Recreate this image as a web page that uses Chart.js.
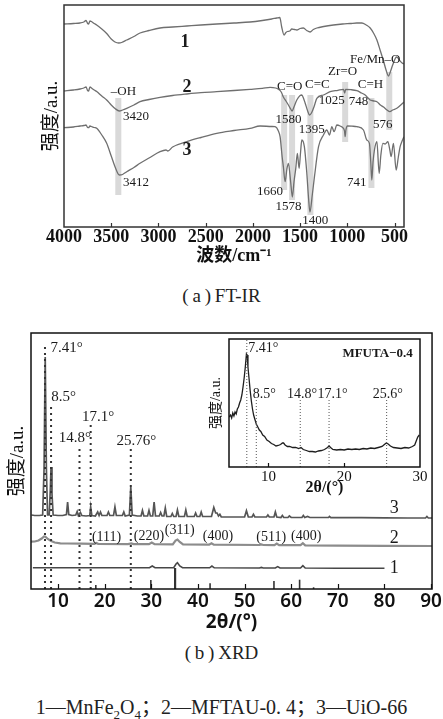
<!DOCTYPE html>
<html lang="zh">
<head>
<meta charset="UTF-8">
<title>FT-IR / XRD</title>
<script src="https://cdn.jsdelivr.net/npm/chart.js@4.4.1/dist/chart.umd.min.js"></script>
<style>
  body { margin: 0; background: #fff; }
  .page { position: relative; width: 443px; height: 719px; overflow: hidden; }
  .page canvas { position: absolute; }
  .cap { position: absolute; left: 0; width: 443px; text-align: center; color: #222;
         font-family: 'Liberation Serif', 'Noto Sans CJK SC', serif; }
</style>
</head>
<body>
<div class="page">
  <canvas id="ir" width="443" height="275" style="left:0;top:0"></canvas>
  <div class="cap" style="top:285px;font-size:19px;line-height:22px">(&#8201;a&#8201;)&#8201;FT-IR</div>
  <canvas id="xrd" width="443" height="320" style="left:0;top:320px"></canvas>
  <canvas id="inset" width="230" height="165" style="left:200px;top:335px"></canvas>
  <div class="cap" style="top:642px;font-size:19px;line-height:22px">(&#8201;b&#8201;)&#8201;XRD</div>
  <div class="cap" style="top:695px;font-size:20px;line-height:24px">1—MnFe<sub style="font-size:13px">2</sub>O<sub style="font-size:13px">4</sub>；2—MFTAU-0. 4；3—UiO-66</div>
</div>
<script>
// ---- FT-IR (wavenumber, intensity a.u.) ----
const irTicks = [4000, 3500, 3000, 2500, 2000, 1500, 1000, 500];
const irCurve1 = [[4000,203],[3900,203.5],[3830,204],[3790,205],[3767,206.5],[3750,203.5],[3740,203],[3725,206],[3710,205.5],[3680,203.5],[3654,202],[3600,198],[3548,193.5],[3500,188],[3460,185],[3420,184],[3390,184.5],[3336,187],[3260,190.5],[3195,194],[3100,196.5],[2983,199],[2850,200],[2700,201],[2550,202],[2383,203],[2200,204],[2030,205],[1900,206.5],[1800,208],[1747,209],[1715,209.5],[1695,200],[1670,192],[1650,194.5],[1635,195.5],[1610,196],[1588,198],[1560,197.5],[1535,197],[1500,198.5],[1465,199],[1430,196.5],[1394,195],[1360,197.5],[1323,199],[1250,200.5],[1147,202],[1050,203],[970,203.5],[900,204],[846,204],[800,202],[758,199],[720,193.5],[687,187],[650,176],[617,166],[590,157],[564,151],[545,155],[520,162],[490,169],[476,170],[450,167],[420,164],[400,163]];
const irCurve2 = [[4000,136],[3900,137],[3830,138],[3790,139],[3767,140],[3750,136.5],[3740,136],[3725,140],[3710,139],[3680,137],[3654,135.5],[3600,131],[3548,127],[3500,122],[3460,118.5],[3414,116],[3380,117],[3336,118.7],[3260,122],[3195,125.3],[3100,127.5],[2983,129.7],[2850,131.5],[2700,133],[2550,134.3],[2383,135.3],[2200,136.5],[2030,137.7],[1900,138.7],[1818,139.7],[1760,139],[1730,137.7],[1700,135],[1677,130],[1650,126],[1624,122],[1600,118],[1585,116],[1565,120],[1535,127],[1500,131.5],[1482,132],[1465,129],[1447,124],[1420,116],[1400,112],[1380,114],[1350,121],[1323,128.7],[1253,132],[1182,135.3],[1100,136.7],[1041,137.7],[1028,134],[1018,137.5],[960,137.3],[900,136.3],[850,134],[811,132],[780,129],[758,127],[740,126.5],[720,126],[687,125.3],[650,122],[617,120],[580,117],[550,115.3],[520,117],[476,118.7],[440,121.5],[405,124.5],[400,125]];
const irCurve3 = [[4000,99.3],[3900,100],[3830,101],[3790,101.5],[3767,102],[3750,99.5],[3740,99.3],[3725,101],[3710,100.5],[3680,99.5],[3654,98.7],[3600,92],[3548,83.7],[3500,71],[3460,60.3],[3414,52],[3380,52.5],[3336,55.3],[3260,59.5],[3195,63.7],[3100,69],[2983,75.3],[2920,77],[2900,76],[2850,80],[2700,85.3],[2550,89.5],[2383,93.7],[2200,96.5],[2030,98.7],[1924,101],[1800,100.5],[1765,100.3],[1730,96],[1712,90.3],[1690,70],[1677,60],[1659,45.3],[1640,58],[1624,63.7],[1600,45],[1582,30],[1565,45],[1546,58.7],[1529,73.7],[1511,58.7],[1495,75],[1482,87],[1455,80.3],[1430,55],[1410,28],[1396,15],[1370,33],[1348,50.3],[1305,80.3],[1253,92],[1217,97],[1189,92],[1164,100.3],[1140,95.3],[1111,102],[1076,101],[1041,98.7],[1030,96],[1023,90.3],[1015,97],[999,101],[950,100.8],[900,100.3],[829,97],[794,87],[766,83.7],[752,65],[741,47],[728,65],[713,77],[687,85.3],[663,53.7],[645,72],[624,83.7],[600,83],[571,85.3],[550,77],[536,70.3],[512,83.7],[483,57],[460,70],[441,80.3],[420,86],[400,90.3]];
const irBandPos = [3425, 1669, 1585, 1391, 1023, 745, 556];
const irBandLow = [32, 37, 27, 12, 85, 39, 97];
const irBandHigh = [129, 132, 132, 132, 145, 129, 155];
const irCurveNames = [['1', 2718, 185], ['2', 2697, 140], ['3', 2697, 77]];
const irPeakLabels = [['–OH', 3370, 135], ['3420', 3237, 110], ['3412', 3237, 44], ['C=O', 1609, 140], ['C=C', 1318, 142],
  ['Zr=O', 1050, 155], ['Fe/Mn–O', 705, 167], ['C=H', 755, 142], ['1025', 1164, 126], ['748', 882, 125], ['576', 624, 102],
  ['1580', 1624, 107], ['1395', 1376, 97], ['1660', 1818, 35], ['1578', 1622, 20], ['1400', 1341, 6], ['741', 899, 44]];

// ---- XRD main (2θ, intensity a.u.) ----
const xrdTicks = [10, 20, 30, 40, 50, 60, 70, 80, 90];
const xrdUio = [[4.3,74],[5,73.5],[6,73.5],[6.7,74],[7.0,120],[7.25,232],[7.5,120],[7.75,74],[8.1,74],[8.35,100],[8.5,122],[8.7,95],[8.95,74],[10,73.5],[11,73.5],[11.8,74.5],[12.05,87],[12.3,74.5],[13,73.5],[13.8,74],[14.1,77.5],[14.35,73.5],[14.8,76.5],[15.1,73.5],[16,73],[16.8,73.5],[17.0,82],[17.25,73.5],[18,73],[18.5,77],[18.8,73.5],[19.1,77],[19.4,73.5],[20.5,73.5],[20.8,77],[21.1,73.5],[21.9,73.5],[22.2,82],[22.5,73.5],[23.8,73.5],[24.1,77],[24.4,73],[25.3,74],[25.6,102],[25.9,74],[27,73],[27.8,73],[28.1,78.5],[28.4,73],[29.2,73],[29.5,78.5],[29.8,73],[30.3,73],[30.6,87],[30.9,73],[31.7,73],[32,76.5],[32.3,73],[32.7,73],[33,81],[33.3,72.5],[34.2,72.5],[34.5,75.5],[34.8,72.5],[35.3,72.5],[35.6,79],[35.9,72.5],[37.1,72.5],[37.4,79],[37.7,72.5],[39.2,72.5],[39.5,76],[39.8,72.5],[40.4,72.5],[40.7,77],[41,72.5],[42.9,72.5],[43.4,81.5],[43.8,76],[44.1,76],[44.4,73],[44.7,74.7],[45,72],[47,72],[50,72],[50.4,78.3],[50.8,72],[51.6,72],[51.9,74.7],[52.2,72],[54.7,72],[55,74],[55.3,72],[56.3,72],[56.6,77],[56.9,72],[57.8,71.5],[58.1,73.5],[58.4,71.5],[59.3,71.5],[59.6,73],[60,71.5],[62.3,71.5],[62.6,73.5],[62.9,71.5],[63.5,72.5],[64,71.5],[68,71.5],[68.2,72.5],[68.5,71.3],[75,71.3],[80,71.2],[85,71],[88.8,71],[89.1,72.5],[89.4,71],[90.2,71]];
const xrdComposite = [[4.2,47.3],[5,47.5],[5.8,48.5],[6.5,50.5],[7.0,52.5],[7.3,52.3],[7.8,50],[8.5,48],[9.3,46.5],[10.5,45.7],[12,45.5],[15,45.3],[17.8,45.2],[18.2,46],[18.6,45.2],[25,44.9],[25.7,45.6],[26.2,44.9],[29.5,44.8],[30.1,46.5],[30.7,44.8],[34.6,44.6],[35.2,48.5],[35.6,49.5],[36.1,47],[36.8,44.6],[42.4,44.3],[42.9,45.8],[43.4,44.3],[53.2,44],[53.6,44.6],[54,44],[56.4,43.9],[56.9,45.4],[57.4,43.9],[62,43.8],[62.5,45.8],[63,43.7],[70,43.4],[80,43.2],[90.2,43]];
const xrdMnFe = [[4.6,21.3],[10,21.3],[18,21.3],[29.6,21.3],[30.2,23],[30.8,21.3],[34.8,21.3],[35.3,25],[35.6,26.3],[36.1,23],[36.7,21.3],[42.5,21.2],[43,23],[43.5,21.2],[53.2,21],[53.6,21.6],[54,21],[56.6,21],[57.1,22.4],[57.6,21],[62,21],[62.5,23.3],[63,21],[70,20.8],[80,20.7]];
const refPos = [18.1, 29.9, 35.1, 42.6, 56.3, 61.8, 64.8];
const refHeight = [4, 9, 21, 5.7, 8, 9.3, 1.7];
const xrdMarkPos = [7.2, 8.5, 14.6, 17.0, 25.6];
const xrdMarkTop = [246, 184, 144, 164, 140];
const xrdAngleLabels = [['7.41°', 11.85, 240.7], ['8.5°', 11.2, 191.7], ['14.8°', 13.6, 150.7], ['17.1°', 18.6, 172.3], ['25.76°', 26.8, 148.3]];
const xrdHklLabels = [['(111)', 20.4, 51.7], ['(220)', 29.5, 53], ['(311)', 36.1, 58.3], ['(400)', 44.3, 53], ['(511)', 55.7, 51.7], ['(400)', 63.2, 52.3]];
const xrdCurveNames = [['3', 82.1, 80.7], ['2', 82.1, 50.7], ['1', 82.1, 20.7]];

// ---- XRD inset, MFUTA-0.4 ----
const insetTicks = [10, 20, 30];
const insetCurve = [[4.8,50],[5.0,52],[5.15,49],[5.3,54],[5.45,51],[5.6,55],[5.75,53],[5.9,58],[6.05,60],[6.2,64],[6.35,67],[6.5,72],[6.65,80],[6.8,89],[6.95,100],[7.1,113],[7.2,112],[7.3,100],[7.45,88],[7.6,76],[7.75,66],[7.9,58],[8.05,52],[8.2,48],[8.4,43],[8.6,40],[8.8,37],[9.0,35.5],[9.25,32],[9.5,30.5],[9.8,27],[10.1,25.5],[10.4,23.5],[10.7,22.5],[11.0,21],[11.3,21.5],[11.6,22.5],[11.85,24],[12.0,24],[12.2,22],[12.5,20.5],[12.8,20.5],[13.2,19.5],[13.6,19.5],[14.0,18.5],[14.3,19.5],[14.6,17.5],[15.0,16.5],[15.4,15.5],[15.8,15.5],[16.2,15],[16.6,16],[17.0,16.5],[17.4,17.5],[17.8,19.5],[18.0,21],[18.2,19.5],[18.5,17.5],[19.0,17],[19.5,17.5],[20.0,17],[20.5,18],[21.0,17.5],[21.5,18],[22.0,17.5],[22.5,18.5],[23.0,18],[23.5,19],[24.0,18.5],[24.5,19.5],[25.0,20.5],[25.3,22.5],[25.55,24],[25.8,23],[26.1,21],[26.5,19.5],[27.0,19],[27.5,18.5],[28.0,19.5],[28.5,19],[29.0,20.5],[29.3,22],[29.5,26],[29.7,30],[29.9,32]];
const insetMarkPos = [7.15, 8.4, 14.2, 18.0, 25.6];
const insetMarkTop = [128, 69, 67, 67, 67];
const insetLabels = [['7.41°', 9.34, 118.7], ['8.5°', 9.47, 73], ['14.8°', 14.43, 73], ['17.1°', 18.46, 73], ['25.6°', 25.75, 73]];
const insetName = ['MFUTA−0.4', 24.4, 113.7];

const SERIF = "'Liberation Serif', 'Noto Sans CJK SC', serif";
const SANS = "'Noto Sans', 'Noto Sans CJK SC', sans-serif";
const pts = arr => arr.map(([x, y]) => ({x, y}));

// draws bands, texts, frame and inward ticks with the chart's own scales
const overlay = {
  id: 'overlay',
  beforeDatasetsDraw(chart, args, o) {
    const {ctx, chartArea: a, scales: {x, y}} = chart;
    ctx.save();
    if (o.fill) { ctx.fillStyle = o.fill; ctx.fillRect(a.left, a.top, a.width, a.height); }
    (o.bands || []).forEach(b => {
      const px = x.getPixelForValue(b.x), top = y.getPixelForValue(b.hi), bot = y.getPixelForValue(b.lo);
      ctx.fillStyle = '#d9d9d9';
      ctx.fillRect(px - 3, top, 6, bot - top);
    });
    ctx.restore();
  },
  afterDatasetsDraw(chart, args, o) {
    const {ctx, chartArea: a, scales: {x, y}} = chart;
    ctx.save();
    ctx.textAlign = 'center';
    ctx.textBaseline = 'middle';
    (o.texts || []).forEach(g => {
      ctx.font = g.font;
      ctx.fillStyle = '#1a1a1a';
      g.items.forEach(([t, vx, vy]) => ctx.fillText(t, x.getPixelForValue(vx), y.getPixelForValue(vy)));
    });
    ctx.strokeStyle = o.frameColor || '#111';
    ctx.lineWidth = 1.5;
    ctx.strokeRect(a.left, a.top, a.width, a.height);
    ctx.lineWidth = 1.2;
    x.ticks.forEach(t => {
      if (t.value === x.min || t.value === x.max) return;
      const px = Math.round(x.getPixelForValue(t.value)) + 0.5;
      ctx.beginPath();
      ctx.moveTo(px, a.bottom);
      ctx.lineTo(px, a.bottom - o.tickLen);
      ctx.stroke();
    });
    ctx.restore();
  }
};

function curve(data, color, width, smooth) {
  return {data: pts(data), borderColor: color, borderWidth: width, pointRadius: 0, showLine: true,
          cubicInterpolationMode: smooth ? 'monotone' : 'default', tension: 0};
}
function vline(xv, top, color, width, dash) {
  return {data: [{x: xv, y: 0}, {x: xv, y: top}], borderColor: color, borderWidth: width, borderDash: dash,
          pointRadius: 0, showLine: true};
}
function xAxis(o) {
  return {
    type: 'linear', min: o.min, max: o.max, reverse: !!o.reverse,
    afterBuildTicks: s => { s.ticks = o.ticks.map(v => ({value: v})); },
    afterFit: s => { s.height = o.height; },
    ticks: {autoSkip: false, maxRotation: 0, padding: o.tickPad, color: '#111', callback: v => String(v),
            font: {family: o.family, size: o.tickSize, weight: o.tickWeight}},
    grid: {display: false, drawTicks: false}, border: {display: false},
    title: {display: true, text: o.title, color: '#111', padding: {top: 0, bottom: o.titlePad},
            font: {family: o.family, size: o.titleSize, weight: 'bold'}}
  };
}
function yAxis(o) {
  return {
    type: 'linear', min: 0, max: o.max,
    afterFit: s => { s.width = o.width; },
    ticks: {display: false}, grid: {display: false, drawTicks: false}, border: {display: false},
    title: {display: true, text: '强度/a.u.', color: '#111', padding: {top: o.titlePad, bottom: 0},
            font: {family: SERIF, size: o.titleSize}}
  };
}
const base = {responsive: false, animation: false, devicePixelRatio: 1, events: []};

new Chart(document.getElementById('ir'), {
  type: 'scatter',
  data: {datasets: [curve(irCurve1, '#6f6f6f', 1.3, true), curve(irCurve2, '#6f6f6f', 1.3, true), curve(irCurve3, '#6f6f6f', 1.3, true)]},
  options: Object.assign({}, base, {
    layout: {padding: {left: 0, right: 39, top: 5, bottom: 0}},
    scales: {
      x: xAxis({min: 400, max: 4000, reverse: true, ticks: irTicks, height: 48, tickPad: 0, tickSize: 18, tickWeight: 'bold',
                family: SERIF, title: '波数/cm⁻¹', titleSize: 18, titlePad: 8}),
      y: yAxis({max: 222, width: 64, titleSize: 19, titlePad: 41})
    },
    plugins: {
      legend: {display: false}, tooltip: {enabled: false},
      overlay: {
        frameColor: '#333', tickLen: 4,
        bands: irBandPos.map((p, i) => ({x: p, lo: irBandLow[i], hi: irBandHigh[i]})),
        texts: [{font: 'bold 18px ' + SERIF, items: irCurveNames}, {font: '13px ' + SERIF, items: irPeakLabels}]
      }
    }
  }),
  plugins: [overlay]
});

new Chart(document.getElementById('xrd'), {
  type: 'scatter',
  data: {datasets: [
    ...xrdMarkPos.map((p, i) => vline(p, xrdMarkTop[i], '#333', 2, [2, 4])),
    ...refPos.map((p, i) => vline(p, refHeight[i], '#333', p > 35 && p < 35.5 ? 2.2 : 1.6, [])),
    curve(xrdMnFe, '#474747', 1.6), curve(xrdComposite, '#8c8c8c', 2.2), curve(xrdUio, '#555', 1.7)
  ]},
  options: Object.assign({}, base, {
    layout: {padding: {left: 0, right: 10, top: 13, bottom: 0}},
    scales: {
      x: xAxis({min: 4.2, max: 90.2, ticks: xrdTicks, height: 51, tickPad: 1, tickSize: 19, tickWeight: '600',
                family: SANS, title: '2θ/(°)', titleSize: 19, titlePad: 6}),
      y: yAxis({max: 256, width: 31, titleSize: 19, titlePad: 6.6})
    },
    plugins: {
      legend: {display: false}, tooltip: {enabled: false},
      overlay: {
        tickLen: 5,
        texts: [{font: '15px ' + SERIF, items: xrdAngleLabels}, {font: '14px ' + SERIF, items: xrdHklLabels},
                {font: '18px ' + SERIF, items: xrdCurveNames}]
      }
    }
  }),
  plugins: [overlay]
});

new Chart(document.getElementById('inset'), {
  type: 'scatter',
  data: {datasets: [
    ...insetMarkPos.map((p, i) => vline(p, insetMarkTop[i], '#555', 1, [1, 2])),
    curve(insetCurve, '#1e1e1e', 1.3)
  ]},
  options: Object.assign({}, base, {
    layout: {padding: {left: 0, right: 10, top: 4, bottom: 0}},
    scales: {
      x: xAxis({min: 4.8, max: 30, ticks: insetTicks, height: 33, tickPad: 1, tickSize: 15, tickWeight: 'normal',
                family: SERIF, title: '2θ/(°)', titleSize: 16, titlePad: 2.4}),
      y: yAxis({max: 128, width: 29, titleSize: 14, titlePad: 7.6})
    },
    plugins: {
      legend: {display: false}, tooltip: {enabled: false},
      overlay: {
        fill: '#fff', tickLen: 4,
        texts: [{font: '14px ' + SERIF, items: insetLabels}, {font: 'bold 13px ' + SERIF, items: [insetName]}]
      }
    }
  }),
  plugins: [overlay]
});
</script>
</body>
</html>
